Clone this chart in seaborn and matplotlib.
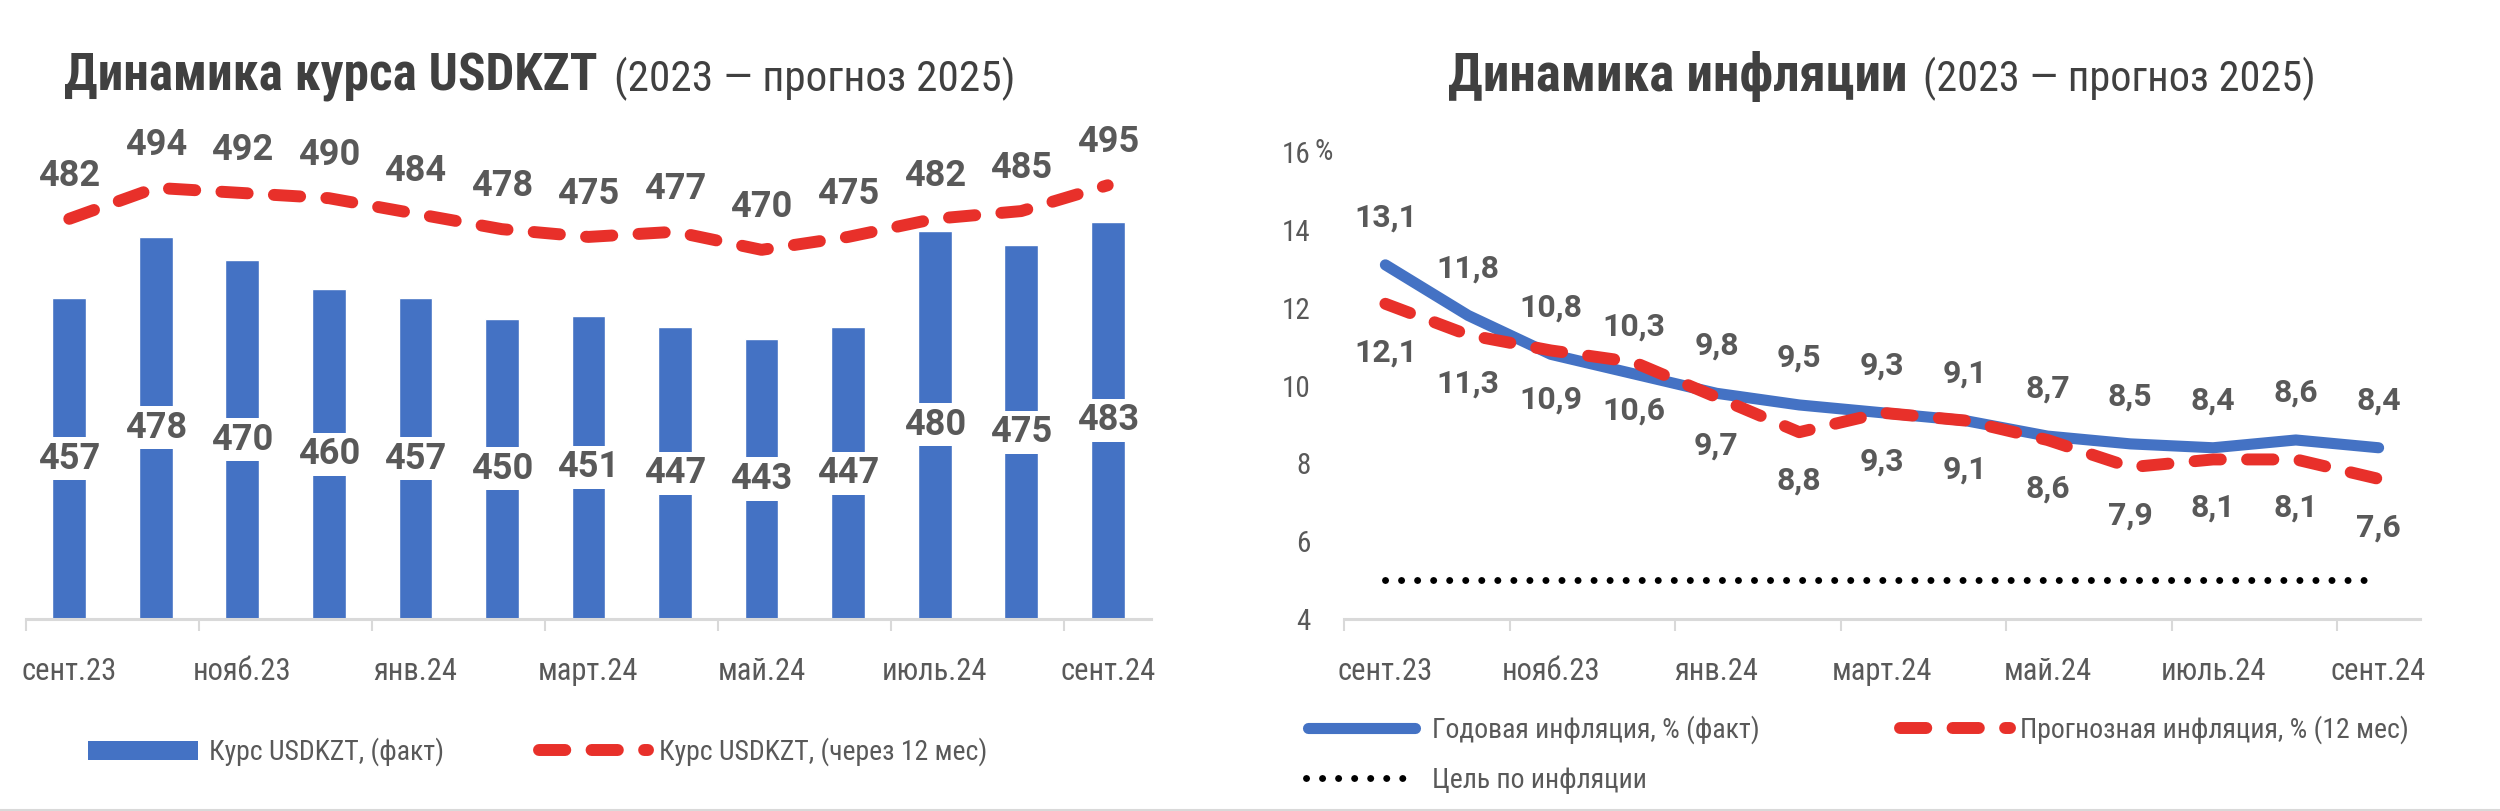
import numpy as np
import pandas as pd
import matplotlib
matplotlib.use("Agg")
import matplotlib.pyplot as plt
import seaborn as sns
from matplotlib import font_manager
from matplotlib.lines import Line2D
from matplotlib.patches import Patch

# ---------------- data ----------------
months = ["сент.23", "окт.23", "нояб.23", "дек.23", "янв.24", "февр.24", "март.24",
          "апр.24", "май.24", "июнь.24", "июль.24", "авг.24", "сент.24"]
usd_fact = [457, 478, 470, 460, 457, 450, 451, 447, 443, 447, 480, 475, 483]
usd_fcst = [482, 494, 492, 490, 484, 478, 475, 477, 470, 475, 482, 485, 495]
infl_fact = [13.1, 11.8, 10.8, 10.3, 9.8, 9.5, 9.3, 9.1, 8.7, 8.5, 8.4, 8.6, 8.4]
infl_fcst = [12.1, 11.3, 10.9, 10.6, 9.7, 8.8, 9.3, 9.1, 8.6, 7.9, 8.1, 8.1, 7.6]
infl_target = [5, 5, 5, 5, 5, 5, 5, 5, 5, 5, 5, 5, 5]
shown_months = ["сент.23", "нояб.23", "янв.24", "март.24", "май.24", "июль.24", "сент.24"]
infl_ticks = [4, 6, 8, 10, 12, 14, 16]

title_left = "Динамика курса USDKZT"
title_right = "Динамика инфляции"
title_sub = "(2023 — прогноз 2025)"
leg_usd_fact = "Курс USDKZT, (факт)"
leg_usd_fcst = "Курс USDKZT, (через 12 мес)"
leg_infl_fact = "Годовая инфляция, % (факт)"
leg_infl_fcst = "Прогнозная инфляция, % (12 мес)"
leg_infl_target = "Цель по инфляции"

# ---------------- style ----------------
BLUE = "#4472C4"
RED = "#E8302A"
GRAY = "#595959"
DARK = "#404040"
AXIS = "#D9D9D9"

sns.set_theme(style="white")
available = {f.name for f in font_manager.fontManager.ttflist}


def pick(*names):
    for n in names:
        if n in available:
            return n
    return "DejaVu Sans"


MAIN = pick("Roboto", "Liberation Sans", "DejaVu Sans")
NARROW = pick("Liberation Sans Narrow", "Roboto Condensed", "Roboto")
is_narrow = NARROW != MAIN
plt.rcParams["font.family"] = [MAIN, "DejaVu Sans"]

W, H = 2500, 811
fig = plt.figure(figsize=(W / 100, H / 100), dpi=100)
fig.patch.set_facecolor("white")


def box(x0, x1, ytop, ybot):
    return [x0 / W, 1 - ybot / H, (x1 - x0) / W, (ybot - ytop) / H]


tick_fs = 22 if is_narrow else 19
leg_fs = 20 if is_narrow else 17

# ---------------- left chart ----------------
df1 = pd.DataFrame({"month": months, "fact": usd_fact, "fcst": usd_fcst})
ax1 = fig.add_axes(box(26, 1151, 100, 619))
ax1b = ax1.twinx()

sns.barplot(data=df1, x="month", y="fact", ax=ax1, color=BLUE, width=0.39,
            saturation=1, zorder=2)
sns.lineplot(data=df1, x="month", y="fcst", ax=ax1b, color=RED, lw=8.6,
             sort=False, legend=False, errorbar=None,
             linestyle=(0, (2.2, 2.2)), dash_capstyle="round")

ax1.set_ylim(347.3, 524.7)
ax1b.set_ylim(327.1, 528.0)
ax1.set_xlim(-0.5, 12.5)

ax1.bar_label(ax1.containers[0], labels=[str(v) for v in usd_fact], label_type="center",
              fontsize=26, fontweight="bold", color=GRAY, family=[MAIN, "DejaVu Sans"],
              bbox=dict(boxstyle="square,pad=0.1", fc="white", ec="none"))
for i, v in enumerate(usd_fcst):
    ax1b.annotate(str(v), xy=(i, v), xytext=(0, 31), textcoords="offset points",
                  ha="center", va="center", fontsize=26, fontweight="bold", color=GRAY)

# ---------------- right chart ----------------
df2 = pd.DataFrame({"month": months, "fact": infl_fact, "fcst": infl_fcst,
                    "target": infl_target})
ax2 = fig.add_axes(box(1344, 2420, 152, 619))
sns.lineplot(data=df2, x="month", y="target", ax=ax2, color="black", lw=5,
             sort=False, legend=False, errorbar=None,
             linestyle=(0, (0.01, 2.3)), dash_capstyle="round")
sns.lineplot(data=df2, x="month", y="fact", ax=ax2, color=BLUE, lw=8,
             sort=False, legend=False, errorbar=None, solid_capstyle="round")
sns.lineplot(data=df2, x="month", y="fcst", ax=ax2, color=RED, lw=8.6,
             sort=False, legend=False, errorbar=None,
             linestyle=(0, (2.2, 2.2)), dash_capstyle="round")
ax2.set_ylim(4, 16)
ax2.set_xlim(-0.5, 12.5)
for i, v in enumerate(infl_fact):
    ax2.annotate(f"{v:.1f}".replace(".", ","), xy=(i, v), xytext=(0, 34),
                 textcoords="offset points", ha="center", va="center",
                 fontsize=23, fontweight="bold", color=GRAY)
for i, v in enumerate(infl_fcst):
    ax2.annotate(f"{v:.1f}".replace(".", ","), xy=(i, v), xytext=(0, -35),
                 textcoords="offset points", ha="center", va="center",
                 fontsize=23, fontweight="bold", color=GRAY)

ax2.set_yticks(infl_ticks)
ax2.set_yticklabels([str(t) for t in infl_ticks], family=[NARROW, "DejaVu Sans"],
                    fontsize=tick_fs - 1, color=GRAY)
ax2.tick_params(axis="y", length=0, pad=24)
ax2.annotate("%", xy=(0, infl_ticks[-1]), xycoords=("axes fraction", "data"),
             xytext=(-21, 0), textcoords="offset points", ha="left", va="center",
             fontsize=tick_fs - 1, color=GRAY, family=[NARROW, "DejaVu Sans"])

# ---------------- common axis styling ----------------
for ax in (ax1, ax1b, ax2):
    ax.set_xlabel("")
    ax.set_ylabel("")
    for s in ("top", "right", "left"):
        ax.spines[s].set_visible(False)
ax1b.spines["bottom"].set_visible(False)
ax1.set_yticks([])
ax1b.set_yticks([])

for ax in (ax1, ax2):
    ax.spines["bottom"].set_color(AXIS)
    ax.spines["bottom"].set_linewidth(2.2)
    ax.set_xticks(range(0, len(months), 2))
    ax.set_xticklabels(shown_months, family=[NARROW, "DejaVu Sans"],
                       fontsize=tick_fs, color=GRAY)
    ax.set_xticks(np.arange(-0.5, len(months) - 1, 2), minor=True)
    ax.tick_params(axis="x", which="major", length=0, pad=27)
    ax.tick_params(axis="x", which="minor", length=8.6, width=1.5, color=AXIS,
                   bottom=True)
    ax.set_facecolor("none")


# ---------------- titles ----------------
def fit_text(x0, text, target_w, weight, base=34):
    t = fig.text(x0 / W, 1 - 91 / H, text, fontsize=base, fontweight=weight, color=DARK,
                 ha="left", va="baseline", family=[NARROW, "DejaVu Sans"])
    fig.canvas.draw()
    bb = t.get_window_extent()
    t.set_fontsize(base * target_w / bb.width)
    fig.canvas.draw()
    return t


t1 = fit_text(64, title_left, 534, "bold")
s1 = fit_text(t1.get_window_extent().x1 + 16, title_sub, 402, "normal")
t2 = fit_text(1448, title_right, 460, "bold")
s2 = fit_text(t2.get_window_extent().x1 + 15, title_sub, 392, "normal")


# ---------------- legends ----------------
def leg(handle, label, x, y, hl, pad, hh=0.7):
    lg = fig.legend(handles=[handle], labels=[label], loc="center left",
                    bbox_to_anchor=(x / W, 1 - y / H), frameon=False, borderpad=0,
                    borderaxespad=0, handlelength=hl, handletextpad=pad,
                    handleheight=hh, prop={"family": [NARROW, "DejaVu Sans"], "size": leg_fs})
    for tx in lg.get_texts():
        tx.set_color(GRAY)
    return lg


px_per_fs = leg_fs * 100 / 72
leg(Patch(facecolor=BLUE, edgecolor="none"), leg_usd_fact, 88, 752,
    110 / px_per_fs, 11 / px_per_fs, hh=19 / px_per_fs)
leg(Line2D([], [], color=RED, lw=8.6, linestyle=(0, (2.2, 2.2)), dash_capstyle="round"),
    leg_usd_fcst, 539, 752, 109 / px_per_fs, 11 / px_per_fs)
leg(Line2D([], [], color=BLUE, lw=8, solid_capstyle="round"),
    leg_infl_fact, 1308, 730, 107 / px_per_fs, 17 / px_per_fs)
leg(Line2D([], [], color=RED, lw=8.6, linestyle=(0, (2.2, 2.2)), dash_capstyle="round"),
    leg_infl_fcst, 1900, 730, 110 / px_per_fs, 10 / px_per_fs)
leg(Line2D([], [], color="black", lw=5, linestyle=(0, (0.01, 2.3)), dash_capstyle="round"),
    leg_infl_target, 1306, 780, 112 / px_per_fs, 14 / px_per_fs)

fig.add_artist(Line2D([0, 1], [1.5 / H, 1.5 / H], color=AXIS, lw=1.5,
                      transform=fig.transFigure))

fig.savefig("out.png", dpi=100, facecolor="white")
